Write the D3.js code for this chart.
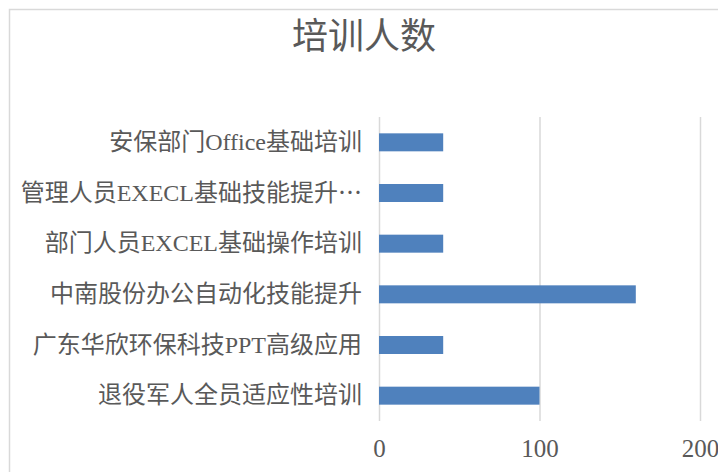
<!DOCTYPE html>
<html>
<head>
<meta charset="utf-8">
<script src="https://cdn.jsdelivr.net/npm/d3@7"></script>
<style>
  body { margin: 0; background: #fff; }
  text { font-family: "Liberation Serif", "Noto Sans CJK SC", serif; }
</style>
</head>
<body>
<div id="chart"></div>
<script>
// data, top to bottom as in the picture
const categories = [
    "安保部门Office基础培训",
    "管理人员EXECL基础技能提升…",
    "部门人员EXCEL基础操作培训",
    "中南股份办公自动化技能提升",
    "广东华欣环保科技PPT高级应用",
    "退役军人全员适应性培训"
];
const values = [40, 40, 40, 160, 40, 100];
const tickValues = [0, 100, 200];
const title = "培训人数";

const width = 718, height = 472;
const plot = {left: 379, right: 700, top: 117, bottom: 421};

const svg = d3.select("#chart")
    .append("svg")
    .attr("width", width)
    .attr("height", height);

// chart frame
svg.append("rect")
    .attr("x", 9.5).attr("y", 9.5)
    .attr("width", 730).attr("height", 480)
    .attr("fill", "#fff")
    .attr("stroke", "#d9d9d9")
    .attr("stroke-width", 1.5);

svg.append("text")
    .attr("x", 364)
    .attr("y", 49)
    .attr("text-anchor", "middle")
    .attr("fill", "#595959")
    .style("font-size", "36px")
    .text(title);

const x = d3.scaleLinear()
    .domain([0, 200])
    .range([plot.left, plot.right]);

const y = d3.scaleBand()
    .domain(categories)
    .range([plot.top, plot.bottom])
    .paddingInner(0.645)
    .paddingOuter(0.3225);

// vertical gridlines + value labels
const xAxis = svg.append("g")
    .attr("transform", `translate(0,${plot.bottom})`)
    .call(d3.axisBottom(x)
        .tickValues(tickValues)
        .tickSize(-(plot.bottom - plot.top))
        .tickPadding(18)
        .tickFormat(d3.format("d")));
xAxis.select(".domain").remove();
xAxis.selectAll(".tick line")
    .attr("stroke", "#d9d9d9")
    .attr("stroke-width", 1.5);
xAxis.selectAll(".tick text")
    .attr("fill", "#595959")
    .style("font-size", "25px")
    .style("font-family", "'Liberation Serif', serif");

// category labels, a trailing … is set in the CJK font so it sits mid-height
const yAxis = svg.append("g")
    .attr("transform", `translate(${plot.left},0)`)
    .call(d3.axisLeft(y).tickSize(0).tickPadding(17));
yAxis.select(".domain").remove();
yAxis.selectAll(".tick text")
    .attr("fill", "#595959")
    .style("font-size", "24px")
    .each(function(d) {
        if (d.endsWith("…")) {
            const t = d3.select(this).text(d.slice(0, -1));
            t.append("tspan")
                .style("font-family", "'Noto Sans CJK SC'")
                .text("…");
        }
    });

svg.append("g")
    .selectAll("rect")
    .data(values)
    .join("rect")
    .attr("x", x(0))
    .attr("y", (d, i) => y(categories[i]))
    .attr("width", d => x(d) - x(0))
    .attr("height", y.bandwidth())
    .attr("fill", "#4f81bd");
</script>
</body>
</html>
